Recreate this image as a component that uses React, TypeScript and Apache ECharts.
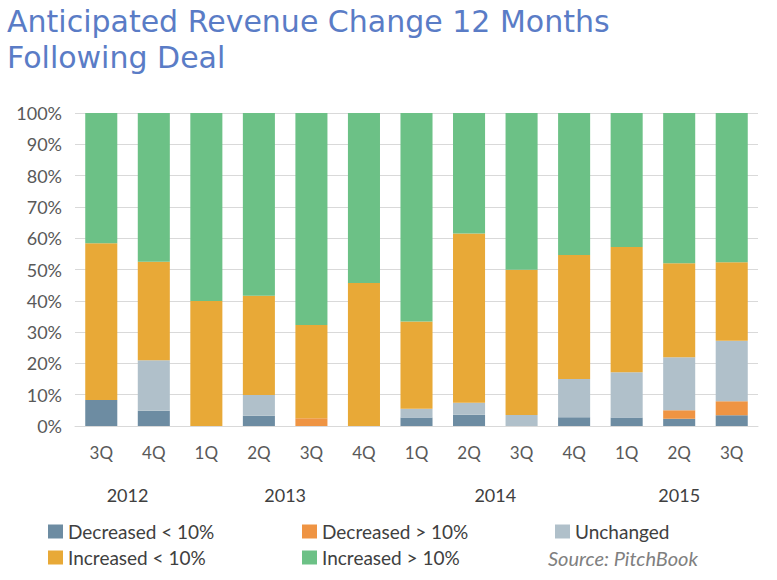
import React, { useEffect, useRef } from "react";
import * as echarts from "echarts";

const titleLines = ["Anticipated Revenue Change 12 Months", "Following Deal"];
const quarters = ["3Q", "4Q", "1Q", "2Q", "3Q", "4Q", "1Q", "2Q", "3Q", "4Q", "1Q", "2Q", "3Q"];
const years = ["2012", "2013", "2014", "2015"];
const yearFirstIndex = [0, 2, 6, 10];
const yearLastIndex = [1, 5, 9, 12];
const yTicks = [0, 10, 20, 30, 40, 50, 60, 70, 80, 90, 100];

const decreasedLess = [8.3, 4.9, 0, 3.3, 0, 0, 2.7, 3.6, 0, 2.8, 2.7, 2.3, 3.4];
const decreasedMore = [0, 0, 0, 0, 2.5, 0, 0, 0, 0, 0, 0, 2.7, 4.5];
const unchanged = [0, 16.1, 0, 6.6, 0, 0, 2.8, 3.8, 3.5, 12.2, 14.5, 17.0, 19.3];
const increasedLess = [50.1, 31.5, 39.9, 31.7, 29.8, 45.7, 27.9, 54.1, 46.4, 39.6, 40.0, 30.0, 25.1];
const increasedMore = [41.6, 47.5, 60.1, 58.4, 67.7, 54.3, 66.6, 38.5, 50.1, 45.4, 42.8, 48.0, 47.7];

const seriesNames = ["Decreased < 10%", "Decreased > 10%", "Unchanged", "Increased < 10%", "Increased > 10%"];
const seriesData = [decreasedLess, decreasedMore, unchanged, increasedLess, increasedMore];
const seriesColors = ["#6d8ca2", "#ef9443", "#b0c0ca", "#e8a937", "#6cc186"];

const FONT = "Lato, 'Noto Sans', sans-serif";

export default function App() {
  const ref = useRef<HTMLDivElement>(null);

  useEffect(() => {
    document.body.style.margin = "0";
    if (!ref.current) return;
    const chart = echarts.init(ref.current, undefined, { renderer: "svg" });

    const legendPos = [
      { left: 48, top: 522 },
      { left: 302, top: 522 },
      { left: 555, top: 522 },
      { left: 48, top: 548 },
      { left: 302, top: 548 },
    ];
    const titleTops = [4, 40];

    chart.setOption({
      animation: false,
      textStyle: { fontFamily: FONT },
      title: titleLines.map((t, i) => ({
        text: t,
        left: 7,
        top: titleTops[i],
        padding: 0,
        textStyle: {
          fontFamily: "'DejaVu Sans', sans-serif",
          fontWeight: "normal",
          fontSize: 30,
          lineHeight: 35,
          color: "#5a7cc6",
        },
      })),
      grid: { left: 75, right: 19, top: 113, bottom: 154, containLabel: false },
      legend: seriesNames.map((n, i) => ({
        data: [n],
        left: legendPos[i].left,
        top: legendPos[i].top,
        padding: 0,
        itemWidth: 15,
        itemHeight: 14,
        icon: "rect",
        selectedMode: false,
        textStyle: { fontFamily: FONT, fontSize: 19, color: "#404040" },
      })),
      xAxis: {
        type: "category",
        data: quarters,
        axisLine: { lineStyle: { color: "#d9d9d9" } },
        axisTick: { show: false },
        axisLabel: { margin: 18, fontSize: 17, color: "#595959", fontFamily: FONT },
      },
      yAxis: {
        type: "value",
        min: yTicks[0],
        max: yTicks[yTicks.length - 1],
        interval: 10,
        axisLine: { show: false },
        axisTick: { show: false },
        splitLine: { lineStyle: { color: "#d9d9d9" } },
        axisLabel: { formatter: "{value}%", margin: 13, fontSize: 18, color: "#595959", fontFamily: FONT },
      },
      series: seriesNames.map((n, i) => ({
        name: n,
        type: "bar",
        stack: "total",
        data: seriesData[i],
        barCategoryGap: "39%",
        itemStyle: { color: seriesColors[i] },
      })),
    });

    const yearY = (chart.convertToPixel({ yAxisIndex: 0 }, 0) as number) + 69;
    const yearTexts = years.map((y, i) => {
      const a = chart.convertToPixel({ xAxisIndex: 0 }, yearFirstIndex[i]) as number;
      const b = chart.convertToPixel({ xAxisIndex: 0 }, yearLastIndex[i]) as number;
      return {
        type: "text",
        x: (a + b) / 2,
        y: yearY,
        style: {
          text: y,
          fontFamily: FONT,
          fontSize: 18,
          fill: "#404040",
          align: "center",
          verticalAlign: "middle",
        },
      };
    });

    chart.setOption({
      graphic: [
        ...yearTexts,
        {
          type: "text",
          x: 548,
          y: 558,
          style: {
            text: "Source: PitchBook",
            fontFamily: FONT,
            fontStyle: "italic",
            fontSize: 20,
            fill: "#808080",
            verticalAlign: "middle",
          },
        },
      ],
    });

    return () => chart.dispose();
  }, []);

  return <div ref={ref} style={{ width: 777, height: 580 }} />;
}
